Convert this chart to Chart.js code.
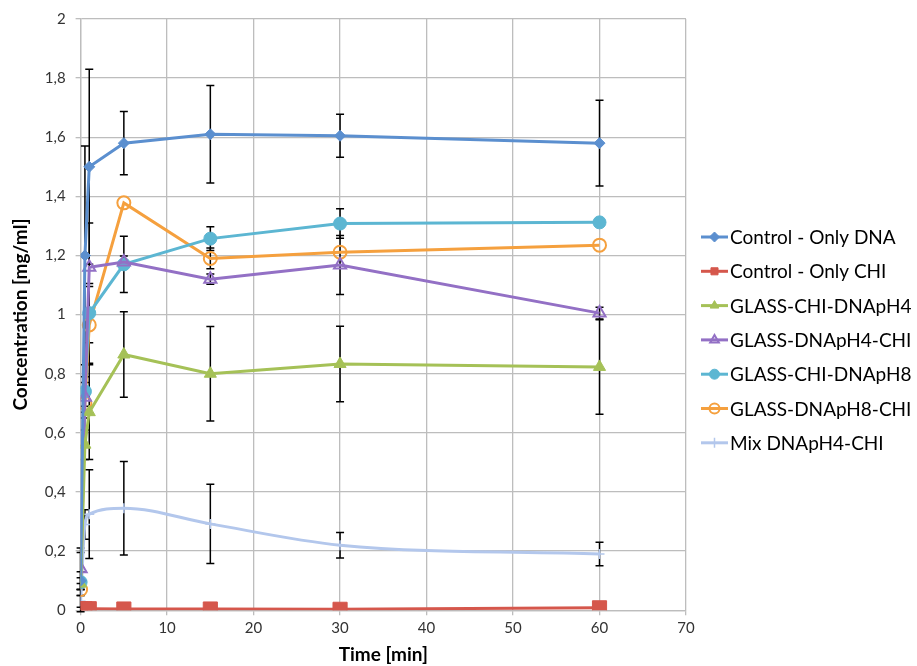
<!DOCTYPE html>
<html>
<head>
<meta charset="utf-8">
<script src="https://cdn.jsdelivr.net/npm/chart.js@4.4.1/dist/chart.umd.min.js"></script>
<style>
  html, body { margin: 0; padding: 0; background: #ffffff; }
  #wrap { width: 917px; height: 666px; position: relative; }
</style>
</head>
<body>
<div id="wrap"><canvas id="c" width="917" height="666"></canvas></div>
<script>
// Sampling times [min]
const times = [0, 0.5, 1, 5, 15, 30, 60];

// Series names
const seriesNames = [
  'Control - Only DNA',
  'Control - Only CHI',
  'GLASS-CHI-DNApH4',
  'GLASS-DNApH4-CHI',
  'GLASS-CHI-DNApH8',
  'GLASS-DNApH8-CHI',
  'Mix DNApH4-CHI'
];

// Concentrations [mg/ml]
const controlDNA   = [0.10, 1.20, 1.50, 1.58, 1.61, 1.605, 1.58];
const controlCHI   = [0.005, 0.005, 0.005, 0.004, 0.004, 0.003, 0.008];
const chiDNApH4    = [0.09, 0.56, 0.67, 0.865, 0.80, 0.833, 0.823];
const dnapH4CHI    = [0.14, 0.72, 1.16, 1.178, 1.12, 1.168, 1.005];
const chiDNApH8    = [0.095, 0.74, 1.005, 1.17, 1.257, 1.308, 1.312];
const dnapH8CHI    = [0.07, 0.70, 0.965, 1.378, 1.19, 1.211, 1.235];
const mixDNApH4CHI = [0.03, 0.29, 0.325, 0.345, 0.292, 0.22, 0.19];

// Standard deviations (symmetric error bars)
const controlDNAErr   = [0.03, 0.37, 0.33, 0.107, 0.165, 0.073, 0.145];
const controlCHIErr   = [0, 0, 0, 0, 0, 0, 0];
const chiDNApH4Err    = [0.02, 0.05, 0.16, 0.145, 0.16, 0.128, 0.16];
const dnapH4CHIErr    = [0.07, 0.05, 0.15, 0.02, 0.017, 0.10, 0.02];
const chiDNApH8Err    = [0.10, 0.05, 0.10, 0.095, 0.04, 0.05, 0];
const dnapH8CHIErr    = [0.02, 0.05, 0.13, 0, 0.035, 0, 0];
const mixDNApH4CHIErr = [0.02, 0.05, 0.15, 0.158, 0.134, 0.043, 0.04];

// Axis ticks
const xTicks = [0, 10, 20, 30, 40, 50, 60, 70];
const yTicks = [0, 0.2, 0.4, 0.6, 0.8, 1, 1.2, 1.4, 1.6, 1.8, 2];

const values = [controlDNA, controlCHI, chiDNApH4, dnapH4CHI, chiDNApH8, dnapH8CHI, mixDNApH4CHI];
const errors = [controlDNAErr, controlCHIErr, chiDNApH4Err, dnapH4CHIErr, chiDNApH8Err, dnapH8CHIErr, mixDNApH4CHIErr];

const styles = [
  { color: '#5B8FCF', fill: '#5B8FCF', pointStyle: 'rectRot', radius: 5.5, smooth: false },
  { color: '#D5574C', fill: '#D5574C', pointStyle: 'rect', radius: 10, smooth: false },
  { color: '#A5C157', fill: '#A5C157', pointStyle: 'triangle', radius: 7, smooth: false },
  { color: '#9370C5', fill: 'rgba(255,255,255,0)', pointStyle: 'triangle', radius: 7, smooth: false, pbw: 2 },
  { color: '#5CB6D2', fill: '#5CB6D2', pointStyle: 'circle', radius: 6.5, smooth: false },
  { color: '#F5A03E', fill: 'rgba(255,255,255,0)', pointStyle: 'circle', radius: 6.5, smooth: false, pbw: 2 },
  { color: '#B3C7EC', fill: '#B3C7EC', pointStyle: 'cross', radius: 5, smooth: true, pbw: 1.5 }
];

const datasets = values.map((vals, i) => ({
  label: seriesNames[i],
  data: times.map((t, j) => ({ x: t, y: vals[j] })),
  errs: errors[i],
  showLine: true,
  borderColor: styles[i].color,
  backgroundColor: styles[i].fill,
  borderWidth: 3,
  tension: styles[i].smooth ? 0.4 : 0,
  cubicInterpolationMode: styles[i].smooth ? 'monotone' : 'default',
  pointStyle: styles[i].pointStyle,
  pointRadius: styles[i].radius,
  pointHoverRadius: styles[i].radius,
  pointBorderColor: styles[i].color,
  pointBackgroundColor: styles[i].fill,
  pointBorderWidth: styles[i].pbw || 1
}));

// Error bars drawn through the chart scales
const errorBars = {
  id: 'errorBars',
  beforeDatasetsDraw(chart) {
    const { ctx, scales: { x, y } } = chart;
    ctx.save();
    ctx.strokeStyle = '#000000';
    ctx.lineWidth = 1.5;
    chart.data.datasets.forEach(ds => {
      ds.data.forEach((p, j) => {
        const e = ds.errs[j];
        if (!e) return;
        const px = x.getPixelForValue(p.x);
        const yt = y.getPixelForValue(p.y + e);
        const yb = y.getPixelForValue(p.y - e);
        ctx.beginPath();
        ctx.moveTo(px, yt); ctx.lineTo(px, yb);
        ctx.moveTo(px - 4, yt); ctx.lineTo(px + 4, yt);
        ctx.moveTo(px - 4, yb); ctx.lineTo(px + 4, yb);
        ctx.stroke();
      });
    });
    ctx.restore();
  }
};

// Legend on the right: line sample with marker, then the series name
const sideLegend = {
  id: 'sideLegend',
  afterDraw(chart) {
    const { ctx } = chart;
    const x0 = 701, x1 = 728, tx = 730, y0 = 237, dy = 34.3;
    ctx.save();
    ctx.font = '19px Lato, "Open Sans", sans-serif';
    ctx.textBaseline = 'middle';
    ctx.textAlign = 'left';
    chart.data.datasets.forEach((ds, i) => {
      const yy = y0 + i * dy;
      ctx.strokeStyle = ds.borderColor;
      ctx.lineWidth = 3;
      ctx.beginPath(); ctx.moveTo(x0, yy); ctx.lineTo(x1, yy); ctx.stroke();
      ctx.fillStyle = ds.pointBackgroundColor;
      ctx.strokeStyle = ds.pointBorderColor;
      ctx.lineWidth = ds.pointBorderWidth;
      Chart.helpers.drawPoint(ctx, {
        pointStyle: ds.pointStyle,
        radius: Math.min(ds.pointRadius, 5),
        rotation: 0,
        borderWidth: ds.pointBorderWidth
      }, (x0 + x1) / 2, yy);
      ctx.fillStyle = '#000000';
      ctx.fillText(ds.label, tx, yy + 1);
    });
    ctx.restore();
  }
};

const fmt = v => {
  const r = Math.round(v * 10) / 10;
  return String(r).replace('.', ',');
};

const FONT = 'Lato, "Open Sans", sans-serif';

new Chart(document.getElementById('c'), {
  type: 'scatter',
  data: { datasets },
  plugins: [errorBars, sideLegend],
  options: {
    responsive: false,
    animation: false,
    devicePixelRatio: 1,
    layout: { padding: { left: 9, right: 231, top: 6, bottom: 0 } },
    plugins: {
      legend: { display: false },
      tooltip: { enabled: false }
    },
    scales: {
      x: {
        type: 'linear',
        min: 0, max: 70,
        afterBuildTicks: axis => { axis.ticks = xTicks.map(v => ({ value: v })); },
        ticks: { color: '#333333', font: { family: FONT, size: 15 }, padding: 4, callback: v => String(v) },
        grid: { color: '#BDBDBD', lineWidth: 1.3, tickLength: 5, drawTicks: true },
        border: { color: '#BDBDBD', width: 1.3 },
        title: { display: true, text: 'Time [min]', color: '#000000', font: { family: FONT, size: 19, weight: 'bold' }, padding: { top: 2, bottom: 0 } }
      },
      y: {
        type: 'linear',
        min: 0, max: 2,
        afterBuildTicks: axis => { axis.ticks = yTicks.map(v => ({ value: v })); },
        ticks: { color: '#333333', font: { family: FONT, size: 15 }, padding: 10, callback: v => fmt(v) },
        grid: { color: '#BDBDBD', lineWidth: 1.3, tickLength: 5, drawTicks: true },
        border: { color: '#BDBDBD', width: 1.3 },
        title: { display: true, text: 'Concentration [mg/ml]', color: '#000000', font: { family: FONT, size: 19, weight: 'bold' }, padding: { top: 0, bottom: 3 } }
      }
    }
  }
});
</script>
</body>
</html>
